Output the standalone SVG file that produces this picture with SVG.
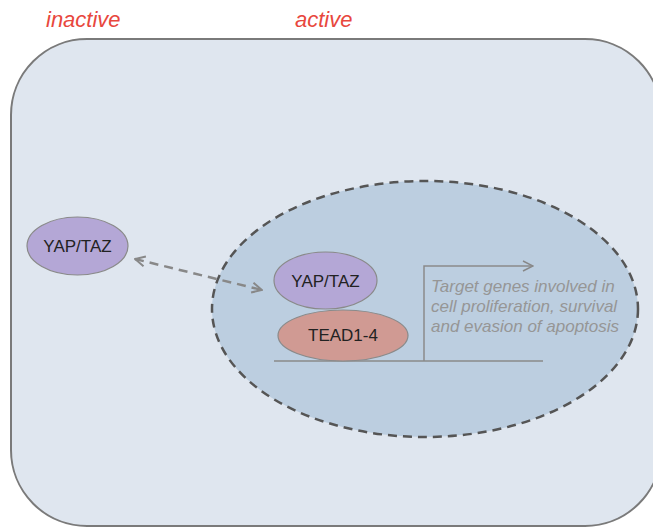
<svg xmlns="http://www.w3.org/2000/svg" width="653" height="527" viewBox="0 0 653 527">
<style>
.lbl{font-family:"Liberation Sans",Arial,sans-serif;font-size:17px;fill:#222;text-anchor:middle}
.state{font-family:"Liberation Sans",Arial,sans-serif;font-size:22px;font-style:italic;fill:#e8473d}
.note{font-family:"Liberation Sans",Arial,sans-serif;font-size:17px;font-style:italic;fill:#969696}
.yap{fill:#b4a7d6;stroke:#8a8a8a;stroke-width:1.2}
.tead{fill:#d09a93;stroke:#8a8a8a;stroke-width:1.2}
</style>
<defs>
<marker id="chev" viewBox="0 0 12 12" refX="11" refY="6" markerWidth="12" markerHeight="12" markerUnits="userSpaceOnUse" orient="auto-start-reverse">
<path d="M1,1 L11,6 L1,11" fill="none" stroke="#888" stroke-width="2"/>
</marker>
<marker id="chev2" viewBox="0 0 12 12" refX="11" refY="6" markerWidth="12" markerHeight="12" markerUnits="userSpaceOnUse" orient="auto">
<path d="M1,1 L11,6 L1,11" fill="none" stroke="#888" stroke-width="1.5"/>
</marker>
</defs>
<rect id="cell" x="11" y="39" width="650" height="487" rx="76" ry="76" fill="#dfe6ef" stroke="#7a7a7a" stroke-width="2"/>
<text class="state" x="46" y="27">inactive</text>
<text class="state" x="295" y="27">active</text>
<ellipse id="nucleus" cx="425" cy="309" rx="213" ry="128" fill="#bccee0" stroke="#555" stroke-width="2.5" stroke-dasharray="9,6"/>
<g id="connectors">
<line x1="135" y1="259" x2="262" y2="290" stroke="#888" stroke-width="2.5" stroke-dasharray="9,6" marker-start="url(#chev)" marker-end="url(#chev)"/>
<line x1="274" y1="361" x2="543" y2="361" stroke="#8a8a8a" stroke-width="1.5"/>
<polyline points="424,361 424,266 533,266" fill="none" stroke="#8a8a8a" stroke-width="1.5" marker-end="url(#chev2)"/>
</g>
<g id="yaptaz-inactive">
<ellipse class="yap" cx="77.5" cy="246" rx="50.5" ry="29"/>
<text class="lbl" x="77.5" y="252">YAP/TAZ</text>
</g>
<g id="tead">
<ellipse class="tead" cx="343" cy="335.5" rx="65" ry="25.5"/>
<text class="lbl" x="343" y="341">TEAD1-4</text>
</g>
<g id="yaptaz-active">
<ellipse class="yap" cx="325.5" cy="280.5" rx="51.5" ry="28.5"/>
<text class="lbl" x="325.5" y="287">YAP/TAZ</text>
</g>
<g id="target-genes">
<text class="note" x="431" y="292">Target genes involved in</text>
<text class="note" x="431" y="312">cell proliferation, survival</text>
<text class="note" x="431" y="332">and evasion of apoptosis</text>
</g>
</svg>
